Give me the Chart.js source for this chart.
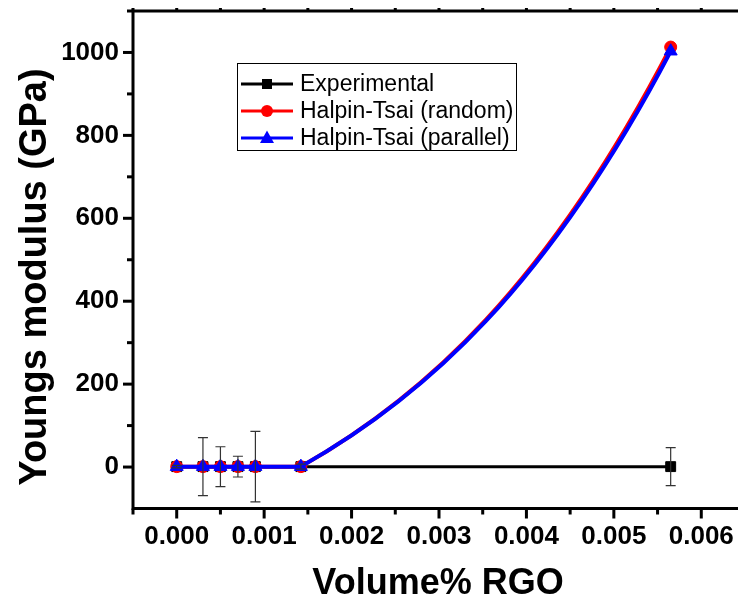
<!DOCTYPE html>
<html>
<head>
<meta charset="utf-8">
<script src="https://cdn.jsdelivr.net/npm/chart.js@4.4.1/dist/chart.umd.min.js"></script>
<style>
  body { margin: 0; background: #fff; }
  #graph { display: block; }
</style>
</head>
<body>
<canvas id="graph" width="738" height="604"></canvas>
<script>
// Données
var volX = [0, 0.0003, 0.0005, 0.0007, 0.0009, 0.00142, 0.00565];
var expY = [1, 1, 1, 1, 1, 1, 1];
var expErr = [3, 70, 48, 25, 85, 6, 46];
var randomY = [1, 1, 1, 1, 1, 1, 1013];
var parallelY = [1, 1, 1, 1, 1, 1, 1003];
var xTicks = [0, 0.001, 0.002, 0.003, 0.004, 0.005, 0.006];
var yTicks = [0, 200, 400, 600, 800, 1000];

var police = "'Liberation Sans', Arial, Helvetica, sans-serif";
//Pentes relatives (début / fin) du dernier segment lissé, comme la spline d'Origin
var penteDebut = 0.5;
var penteFin = 1.7;

function points(ys) {
    var res = [];
    for (var i = 0; i < volX.length; i++) {
        res.push({ x: volX[i], y: ys[i] });
    }
    return res;
}

//Plugin qui retouche le lissage, dessine les axes, les graduations, les titres et la légende
var cadre = {
    id: 'cadre',
    beforeDatasetDraw: function(chart, args) {
        var meta = args.meta;
        if (meta.index === 2 || !meta.dataset) return;
        meta.dataset.updateControlPoints(chart.chartArea, 'x');
        var pts = meta.data;
        var p0 = pts[pts.length - 2];
        var p1 = pts[pts.length - 1];
        var dx = p1.x - p0.x;
        var dy = p1.y - p0.y;
        p0.cp2x = p0.x + dx / 3;
        p0.cp2y = p0.y + penteDebut * dy / 3;
        p1.cp1x = p1.x - dx / 3;
        p1.cp1y = p1.y - penteFin * dy / 3;
        meta.dataset._path = undefined;
    },
    afterDatasetsDraw: function(chart) {
        var ctx = chart.ctx;
        var xs = chart.scales.x;
        var ys = chart.scales.y;
        //Barres d'erreur de la série expérimentale
        ctx.save();
        ctx.strokeStyle = '#333';
        ctx.lineWidth = 1.2;
        for (var i = 0; i < volX.length; i++) {
            var px = xs.getPixelForValue(volX[i]);
            var top = ys.getPixelForValue(expY[i] + expErr[i]);
            var bot = ys.getPixelForValue(expY[i] - expErr[i]);
            ctx.beginPath();
            ctx.moveTo(px, top); ctx.lineTo(px, bot);
            ctx.moveTo(px - 5, top); ctx.lineTo(px + 5, top);
            ctx.moveTo(px - 5, bot); ctx.lineTo(px + 5, bot);
            ctx.stroke();
        }
        ctx.restore();
    },
    afterDraw: function(chart) {
        var ctx = chart.ctx;
        var a = chart.chartArea;
        var xs = chart.scales.x;
        var ys = chart.scales.y;
        ctx.save();
        ctx.strokeStyle = '#000';
        ctx.lineWidth = 3;
        ctx.beginPath();
        ctx.moveTo(a.left, a.top); ctx.lineTo(a.right, a.top);
        ctx.moveTo(a.left, a.top - 1.5); ctx.lineTo(a.left, a.bottom + 1.5);
        ctx.moveTo(a.left, a.bottom); ctx.lineTo(a.right, a.bottom);
        ctx.stroke();
        //Graduations en X (bas et haut)
        for (var k = -1; k <= 13; k++) {
            var v = k * 0.0005;
            var px = xs.getPixelForValue(v);
            if (px > a.right - 2) break;
            var len = (k % 2 === 0) ? 10 : 6;
            ctx.beginPath();
            ctx.moveTo(px, a.bottom); ctx.lineTo(px, a.bottom + len);
            ctx.moveTo(px, a.top); ctx.lineTo(px, a.top - 3);
            ctx.stroke();
        }
        //Graduations en Y
        for (var j = 0; j <= 11; j++) {
            var vy = j * 100;
            var py = ys.getPixelForValue(vy);
            var leny = (j % 2 === 0) ? 10 : 6;
            ctx.beginPath();
            ctx.moveTo(a.left, py); ctx.lineTo(a.left - leny, py);
            ctx.stroke();
        }
        //Titres des axes
        ctx.fillStyle = '#000';
        ctx.font = "bold 36px " + police;
        ctx.textAlign = 'center';
        ctx.textBaseline = 'alphabetic';
        ctx.fillText('Volume% RGO', 438, 594);
        ctx.save();
        ctx.translate(46, 277);
        ctx.rotate(-Math.PI / 2);
        ctx.font = "bold 38px " + police;
        ctx.fillText('Youngs modulus (GPa)', 0, 0);
        ctx.restore();
        //Légende
        ctx.lineWidth = 1;
        ctx.strokeRect(237.5, 63.5, 279, 87);
        var items = [
            { label: 'Experimental', color: '#000', shape: 'rect' },
            { label: 'Halpin-Tsai (random)', color: '#ff0000', shape: 'circle' },
            { label: 'Halpin-Tsai (parallel)', color: '#0000ff', shape: 'triangle' }
        ];
        ctx.font = "23px " + police;
        ctx.textAlign = 'left';
        ctx.textBaseline = 'middle';
        for (var n = 0; n < items.length; n++) {
            var yy = 84 + n * 27;
            ctx.strokeStyle = items[n].color;
            ctx.fillStyle = items[n].color;
            ctx.lineWidth = 3;
            ctx.beginPath();
            ctx.moveTo(241, yy); ctx.lineTo(293, yy);
            ctx.stroke();
            ctx.beginPath();
            if (items[n].shape === 'rect') {
                ctx.rect(262, yy - 5, 10, 10);
            } else if (items[n].shape === 'circle') {
                ctx.arc(267, yy, 6, 0, Math.PI * 2);
            } else {
                ctx.moveTo(267, yy - 7.5);
                ctx.lineTo(274, yy + 5);
                ctx.lineTo(260, yy + 5);
                ctx.closePath();
            }
            ctx.fill();
            ctx.fillStyle = '#000';
            ctx.fillText(items[n].label, 300, yy + 1);
        }
        ctx.restore();
    }
};

var ctx = document.getElementById('graph').getContext('2d');
window.myChart = new Chart(ctx, {
    type: 'line',
    data: {
        datasets: [{
            label: 'Halpin-Tsai (parallel)',
            data: points(parallelY),
            borderColor: '#0000ff',
            backgroundColor: '#0000ff',
            borderWidth: 4,
            pointStyle: 'triangle',
            pointRadius: 7.5,
            pointBorderWidth: 1,
            cubicInterpolationMode: 'monotone',
            order: 0
        }, {
            label: 'Halpin-Tsai (random)',
            data: points(randomY),
            borderColor: '#ff0000',
            backgroundColor: '#ff0000',
            borderWidth: 4,
            pointStyle: 'circle',
            pointRadius: 6,
            pointBorderWidth: 1,
            cubicInterpolationMode: 'monotone',
            order: 1
        }, {
            label: 'Experimental',
            data: points(expY),
            borderColor: '#000',
            backgroundColor: '#000',
            borderWidth: 3,
            pointStyle: 'rect',
            pointRadius: 7,
            pointBorderWidth: 1,
            tension: 0,
            order: 2
        }]
    },
    options: {
        responsive: false,
        animation: false,
        devicePixelRatio: 1,
        layout: { autoPadding: false, padding: { top: 11, right: 0, left: 0, bottom: 0 } },
        plugins: {
            legend: { display: false },
            tooltip: { enabled: false }
        },
        scales: {
            x: {
                type: 'linear',
                min: -0.0005,
                max: 0.00642,
                grid: { display: false, drawTicks: false },
                border: { display: false },
                afterBuildTicks: function(scale) {
                    scale.ticks = xTicks.map(function(v) { return { value: v }; });
                },
                afterFit: function(scale) {
                    scale.height = 95.5;
                    scale.paddingLeft = 0;
                    scale.paddingRight = 0;
                },
                ticks: {
                    color: '#000',
                    padding: 13,
                    maxRotation: 0,
                    autoSkip: false,
                    font: { family: police, size: 26, weight: 'bold' },
                    callback: function(v) { return Number(v).toFixed(3); }
                }
            },
            y: {
                min: -100,
                max: 1100,
                grid: { display: false, drawTicks: false },
                border: { display: false },
                afterBuildTicks: function(scale) {
                    scale.ticks = yTicks.map(function(v) { return { value: v }; });
                },
                afterFit: function(scale) {
                    scale.width = 133;
                    scale.paddingTop = 0;
                    scale.paddingBottom = 0;
                },
                ticks: {
                    color: '#000',
                    padding: 14,
                    font: { family: police, size: 26, weight: 'bold' },
                    callback: function(v) { return String(v); }
                }
            }
        }
    },
    plugins: [cadre]
});
</script>
</body>
</html>
